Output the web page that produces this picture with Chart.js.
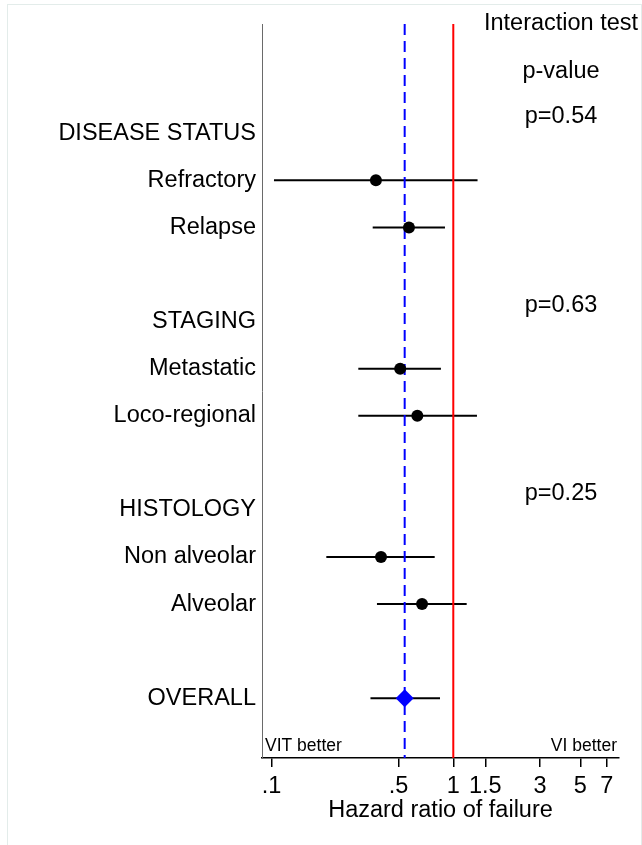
<!DOCTYPE html>
<html>
<head>
<meta charset="utf-8">
<script src="https://cdn.jsdelivr.net/npm/chart.js@4/dist/chart.umd.min.js"></script>
<style>
  html, body { margin: 0; padding: 0; background: #fff; }
  canvas { display: block; }
</style>
</head>
<body>
<canvas id="forest" width="642" height="845"></canvas>
<script>
// Row labels, top to bottom (blank strings are spacer rows)
const rowLabels = ['DISEASE STATUS', 'Refractory', 'Relapse', '',
                   'STAGING', 'Metastatic', 'Loco-regional', '',
                   'HISTOLOGY', 'Non alveolar', 'Alveolar', '',
                   'OVERALL'];

// Subgroup estimates
const subgroupRows = [1, 2, 5, 6, 9, 10];
const hazardRatio  = [0.375, 0.57, 0.51, 0.634, 0.40, 0.673];
const ciLower      = [0.103, 0.36, 0.30, 0.30, 0.20, 0.38];
const ciUpper      = [1.36, 0.90, 0.855, 1.35, 0.79, 1.185];

// Overall estimate
const overallRow = 12;
const overallHR = 0.54;
const overallLower = 0.35;
const overallUpper = 0.845;

// Interaction tests, one per heading row
const headingRows = [0, 4, 8];
const interactionP = ['p=0.54', 'p=0.63', 'p=0.25'];

// X axis ticks
const tickValues = [0.1, 0.5, 1, 1.5, 3, 5, 7];
const tickLabels = ['.1', '.5', '1', '1.5', '3', '5', '7'];

const FONT = "'Liberation Sans', Arial, Helvetica, sans-serif";
const BIG = 23.5, SMALL = 17.5;
const Y_MIN = -2.32, Y_MAX = 13.27;
const X_MIN = 0.0885, X_MAX = 8.17;

const datasets = [];

// Confidence interval whiskers
subgroupRows.forEach((r, i) => {
  datasets.push({
    type: 'scatter', showLine: true, order: 3,
    data: [{ x: ciLower[i], y: r }, { x: ciUpper[i], y: r }],
    borderColor: '#000', borderWidth: 2, pointRadius: 0
  });
});
datasets.push({
  type: 'scatter', showLine: true, order: 3,
  data: [{ x: overallLower, y: overallRow }, { x: overallUpper, y: overallRow }],
  borderColor: '#000', borderWidth: 2, pointRadius: 0
});

// Reference lines: no effect (HR = 1) and overall estimate
datasets.push({
  type: 'scatter', showLine: true, order: 2,
  data: [{ x: 1, y: Y_MIN }, { x: 1, y: Y_MAX }],
  borderColor: '#ff0000', borderWidth: 2, pointRadius: 0
});
datasets.push({
  type: 'scatter', showLine: true, order: 2,
  data: [{ x: overallHR, y: Y_MIN }, { x: overallHR, y: Y_MAX }],
  borderColor: '#0000ff', borderWidth: 2, borderDash: [11, 6], pointRadius: 0
});

// Point estimates
datasets.push({
  type: 'scatter', order: 1,
  data: subgroupRows.map((r, i) => ({ x: hazardRatio[i], y: r })),
  pointStyle: 'circle', pointRadius: 6, pointBackgroundColor: '#000',
  pointBorderColor: '#000', pointBorderWidth: 0
});
datasets.push({
  type: 'scatter', order: 0,
  data: [{ x: overallHR, y: overallRow }],
  pointStyle: 'rectRot', pointRadius: 9, pointBackgroundColor: '#0000ff',
  pointBorderColor: '#0000ff', pointBorderWidth: 0
});

// Outer frame, side texts and interaction p-values
const decorations = {
  id: 'decorations',
  beforeDraw(chart) {
    const ctx = chart.ctx;
    ctx.save();
    ctx.fillStyle = '#fff';
    ctx.fillRect(0, 0, chart.width, chart.height);
    ctx.strokeStyle = '#e3ecea';
    ctx.lineWidth = 1;
    ctx.strokeRect(7.5, 4.5, chart.width - 8, chart.height + 10);
    ctx.restore();
  },
  afterDraw(chart) {
    const ctx = chart.ctx;
    const y = chart.scales.y;
    const area = chart.chartArea;
    const colX = 561;
    ctx.save();
    ctx.fillStyle = '#000';
    ctx.textBaseline = 'middle';
    ctx.textAlign = 'center';
    ctx.font = `${BIG}px ${FONT}`;
    ctx.fillText('Interaction test', colX, y.getPixelForValue(-2.32));
    ctx.fillText('p-value', colX, y.getPixelForValue(-1.32));
    headingRows.forEach((r, i) => {
      ctx.fillText(interactionP[i], colX, y.getPixelForValue(r - 0.35));
    });
    ctx.font = `${SMALL}px ${FONT}`;
    ctx.textAlign = 'left';
    ctx.fillText('VIT better', area.left + 3, area.bottom - 12);
    ctx.textAlign = 'right';
    ctx.fillText('VI better', area.right - 2, area.bottom - 12);
    ctx.restore();
  }
};

new Chart(document.getElementById('forest'), {
  type: 'scatter',
  data: { datasets },
  plugins: [decorations],
  options: {
    responsive: false,
    animation: false,
    events: [],
    layout: { padding: { left: 0, right: 23, top: 24, bottom: 0 } },
    plugins: { legend: { display: false }, tooltip: { enabled: false } },
    scales: {
      x: {
        type: 'logarithmic',
        min: X_MIN, max: X_MAX,
        afterBuildTicks: (s) => { s.ticks = tickValues.map(v => ({ value: v })); },
        afterFit: (s) => { s.height = 87; },
        ticks: {
          autoSkip: false, maxRotation: 0, padding: 5,
          color: '#000', font: { family: FONT, size: BIG },
          callback: (v) => { const i = tickValues.indexOf(v); return i >= 0 ? tickLabels[i] : ''; }
        },
        grid: { display: true, drawOnChartArea: false, drawTicks: true, tickLength: 9, color: '#000', lineWidth: 1.5 },
        border: { display: true, color: '#000', width: 1.5 },
        title: {
          display: true, text: 'Hazard ratio of failure', color: '#000',
          font: { family: FONT, size: BIG }, padding: { top: 0, bottom: 20 }
        }
      },
      y: {
        type: 'linear',
        reverse: true,
        min: Y_MIN, max: Y_MAX,
        afterBuildTicks: (s) => { s.ticks = rowLabels.map((_, i) => ({ value: i })); },
        afterFit: (s) => { s.width = 262; },
        ticks: {
          autoSkip: false, padding: 6, color: '#000',
          font: { family: FONT, size: BIG },
          callback: (v) => rowLabels[v] !== undefined ? rowLabels[v] : ''
        },
        grid: { display: false, drawTicks: false },
        border: { display: true, color: '#6a6a6a', width: 1 }
      }
    }
  }
});
</script>
</body>
</html>
